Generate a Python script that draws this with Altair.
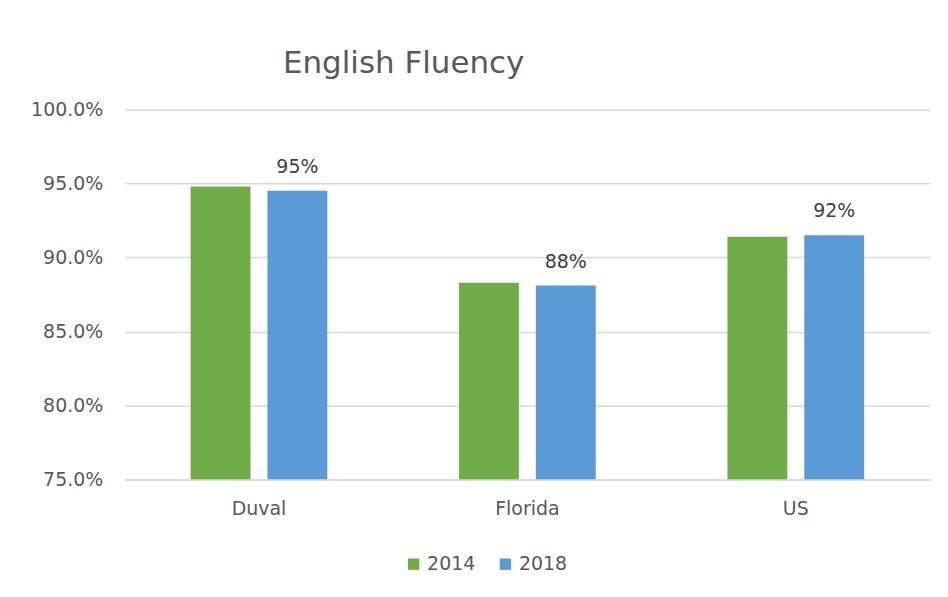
import altair as alt
import pandas as pd

regions = ["Duval", "Florida", "US"]
years = ["2014", "2018"]
values_2014 = [0.948, 0.883, 0.914]
values_2018 = [0.945, 0.881, 0.915]
labels_2018 = ["95%", "88%", "92%"]
colors = ["#70AD47", "#5B9BD5"]

rows = []
for i, r in enumerate(regions):
    rows.append({"region": r, "year": "2014", "value": values_2014[i], "label": ""})
    rows.append({"region": r, "year": "2018", "value": values_2018[i], "label": labels_2018[i]})
df = pd.DataFrame(rows)

FONT = "DejaVu Sans"
TXT = "#595959"

x = alt.X("region:N", sort=regions, title=None,
          scale=alt.Scale(paddingInner=0, paddingOuter=0),
          axis=alt.Axis(labelAngle=0, labelFontSize=19, labelColor=TXT, labelFont=FONT,
                        labelPadding=20, ticks=False, domainColor="#d9d9d9", domainWidth=1.5))
xo = alt.XOffset("year:N", sort=years, scale=alt.Scale(paddingInner=0.2208, paddingOuter=0.857))
y = alt.Y("value:Q", title=None,
          scale=alt.Scale(domain=[0.75, 1.0], zero=False),
          axis=alt.Axis(format=".1%", values=[0.75, 0.8, 0.85, 0.9, 0.95, 1.0],
                        labelFontSize=19, labelColor=TXT, labelFont=FONT, labelPadding=22,
                        ticks=False, domain=False, gridColor="#d9d9d9", gridWidth=1.5))

bars = alt.Chart(df).mark_bar(clip=True).encode(
    x=x, xOffset=xo, y=y, y2=alt.datum(0.75),
    color=alt.Color("year:N", sort=years, scale=alt.Scale(domain=years, range=colors),
                    legend=alt.Legend(orient="none", legendX=280, legendY=446,
                                      direction="horizontal", title=None, labelFontSize=19,
                                      labelColor=TXT, labelFont=FONT, symbolType="square",
                                      symbolSize=130, symbolStrokeWidth=0, columnPadding=20,
                                      labelOffset=4)),
)

text = alt.Chart(df).mark_text(dy=-24, fontSize=19, color="#404040", font=FONT).encode(
    x=x, xOffset=xo, y=y, text="label:N",
)

chart = (bars + text).properties(
    width=807, height=371,
    title=alt.TitleParams("English Fluency", fontSize=31, font=FONT, fontWeight="normal",
                          color=TXT, anchor="start", dx=253, offset=20),
    padding={"left": 22, "top": 40, "right": 10, "bottom": 10},
).configure_view(stroke=None)

chart.save("out.html", embed_options={"renderer": "svg", "actions": False})
